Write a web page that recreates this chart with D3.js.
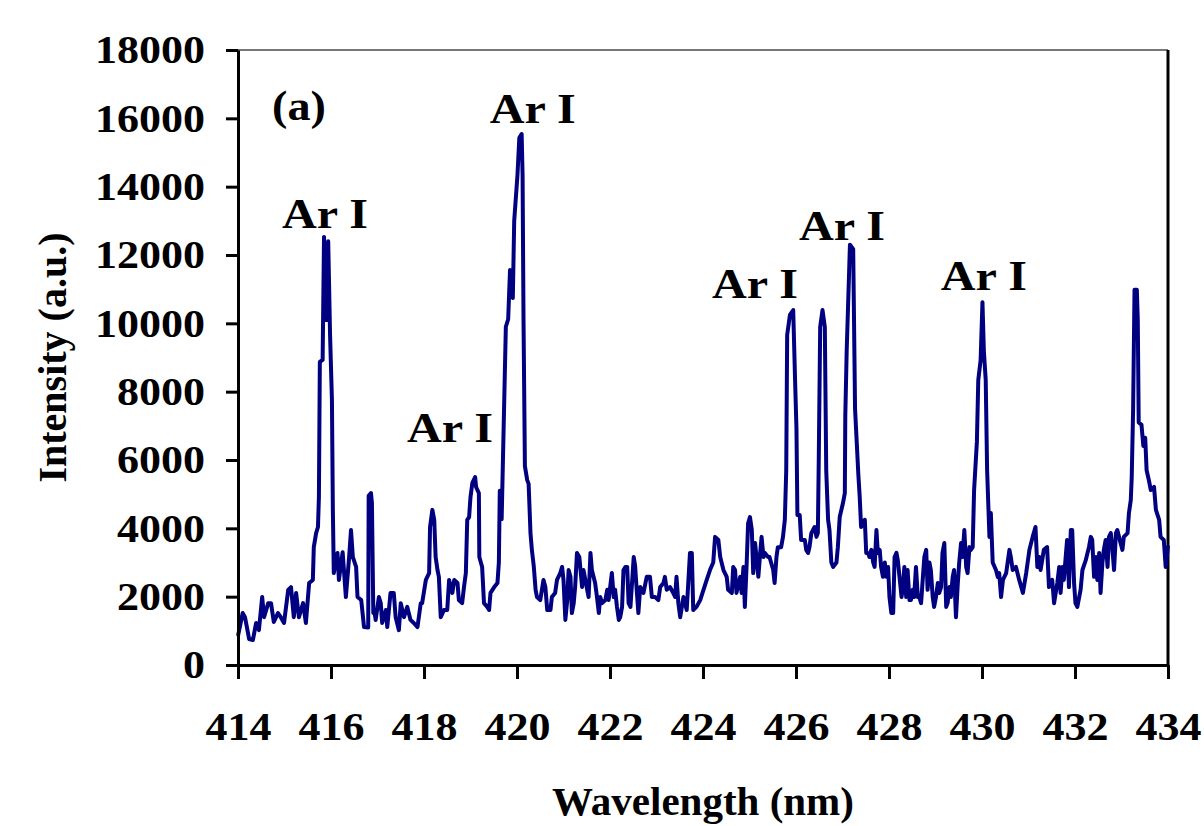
<!DOCTYPE html>
<html>
<head>
<meta charset="utf-8">
<script src="https://cdn.jsdelivr.net/npm/d3@7"></script>
<style>
  html, body { margin: 0; padding: 0; background: #fff; }
  svg text { font-family: "Liberation Serif", "Times New Roman", serif; font-weight: bold; fill: #000; }
</style>
</head>
<body>
<div id="chart-area"></div>
<script>
// spectrum: wavelength (nm) and intensity (a.u.)
const wavelength = [
  414.00, 414.10, 414.15, 414.24, 414.32, 414.39, 414.45, 414.52, 414.56, 414.65,
  414.71, 414.77, 414.86, 414.92, 414.99, 415.08, 415.14, 415.20, 415.25, 415.31,
  415.40, 415.46, 415.53, 415.61, 415.63, 415.68, 415.72, 415.74, 415.76, 415.82,
  415.85, 415.90, 415.94, 415.98, 416.02, 416.04, 416.06, 416.14, 416.17, 416.25,
  416.32, 416.39, 416.43, 416.47, 416.54, 416.57, 416.65, 416.71, 416.80, 416.81,
  416.86, 416.88, 416.91, 416.93, 416.96, 417.03, 417.07, 417.10, 417.18, 417.21,
  417.28, 417.35, 417.39, 417.46, 417.50, 417.57, 417.64, 417.71, 417.78, 417.86,
  417.93, 417.96, 418.04, 418.11, 418.13, 418.18, 418.22, 418.25, 418.29, 418.32,
  418.36, 418.43, 418.50, 418.54, 418.61, 418.65, 418.72, 418.75, 418.82, 418.86,
  418.90, 418.93, 418.97, 419.00, 419.04, 419.10, 419.12, 419.18, 419.19, 419.25,
  419.29, 419.36, 419.40, 419.43, 419.51, 419.58, 419.61, 419.63, 419.67, 419.76,
  419.81, 419.85, 419.91, 419.94, 420.01, 420.05, 420.10, 420.12, 420.14, 420.17,
  420.22, 420.25, 420.29, 420.32, 420.36, 420.40, 420.43, 420.50, 420.57, 420.61,
  420.65, 420.72, 420.75, 420.82, 420.86, 420.93, 420.97, 421.00, 421.04, 421.08,
  421.11, 421.15, 421.18, 421.22, 421.25, 421.29, 421.34, 421.40, 421.43, 421.51,
  421.54, 421.58, 421.61, 421.68, 421.72, 421.76, 421.79, 421.83, 421.90, 421.94,
  421.97, 422.04, 422.08, 422.11, 422.15, 422.19, 422.22, 422.26, 422.29, 422.33,
  422.37, 422.40, 422.44, 422.51, 422.54, 422.57, 422.61, 422.65, 422.72, 422.79,
  422.86, 422.90, 422.97, 423.04, 423.08, 423.15, 423.18, 423.22, 423.29, 423.36,
  423.40, 423.43, 423.47, 423.51, 423.58, 423.65, 423.72, 423.76, 423.79, 423.86,
  423.94, 424.01, 424.08, 424.15, 424.22, 424.26, 424.33, 424.37, 424.44, 424.51,
  424.54, 424.62, 424.65, 424.69, 424.72, 424.80, 424.83, 424.87, 424.90, 424.94,
  424.97, 425.01, 425.05, 425.08, 425.12, 425.15, 425.19, 425.23, 425.26, 425.30,
  425.33, 425.40, 425.43, 425.51, 425.54, 425.58, 425.61, 425.68, 425.72, 425.76,
  425.79, 425.81, 425.87, 425.94, 425.98, 426.01, 426.03, 426.08, 426.11, 426.19,
  426.22, 426.26, 426.29, 426.33, 426.40, 426.44, 426.47, 426.49, 426.52, 426.57,
  426.62, 426.65, 426.69, 426.72, 426.76, 426.80, 426.87, 426.90, 426.94, 427.01,
  427.05, 427.06, 427.09, 427.16, 427.23, 427.27, 427.34, 427.37, 427.40, 427.48,
  427.51, 427.55, 427.58, 427.62, 427.66, 427.69, 427.73, 427.76, 427.80, 427.83,
  427.87, 427.91, 427.94, 427.98, 428.01, 428.05, 428.09, 428.12, 428.16, 428.19,
  428.27, 428.30, 428.33, 428.37, 428.40, 428.44, 428.47, 428.51, 428.54, 428.58,
  428.62, 428.65, 428.69, 428.72, 428.76, 428.80, 428.83, 428.87, 428.90, 428.94,
  428.97, 429.01, 429.05, 429.08, 429.12, 429.15, 429.19, 429.23, 429.26, 429.30,
  429.33, 429.37, 429.40, 429.44, 429.48, 429.51, 429.55, 429.58, 429.62, 429.66,
  429.69, 429.73, 429.76, 429.80, 429.83, 429.89, 429.92, 429.97, 430.01, 430.04,
  430.08, 430.11, 430.16, 430.19, 430.23, 430.30, 430.34, 430.37, 430.41, 430.45,
  430.52, 430.59, 430.62, 430.66, 430.73, 430.80, 430.88, 430.95, 431.02, 431.09,
  431.15, 431.19, 431.23, 431.26, 431.33, 431.40, 431.44, 431.51, 431.55, 431.62,
  431.66, 431.69, 431.73, 431.76, 431.80, 431.83, 431.87, 431.91, 431.94, 431.98,
  432.01, 432.05, 432.12, 432.16, 432.23, 432.30, 432.34, 432.37, 432.41, 432.45,
  432.48, 432.52, 432.55, 432.59, 432.62, 432.66, 432.70, 432.73, 432.77, 432.80,
  432.84, 432.88, 432.91, 432.98, 433.02, 433.05, 433.13, 433.16, 433.20, 433.22,
  433.25, 433.28, 433.33, 433.35, 433.37, 433.43, 433.47, 433.51, 433.54, 433.59,
  433.63, 433.70, 433.74, 433.81, 433.84, 433.91, 433.95, 434.00
];

const intensity = [
  850, 1520, 1400, 760, 730, 1230, 1020, 1990, 1400, 1810,
  1810, 1260, 1520, 1400, 1230, 2200, 2280, 1400, 2110, 1400,
  1810, 1230, 2400, 2490, 3450, 3860, 4040, 4920, 8870, 8930,
  12530, 10100, 12400, 9650, 7760, 4540, 2690, 3280, 2490, 3300,
  1990, 3160, 3950, 3160, 2870, 1990, 1900, 1110, 1100, 4950,
  5030, 4740, 1520, 1610, 1320, 1990, 1810, 1230, 1610, 1110,
  2110, 2110, 1400, 1020, 1810, 1400, 1700, 1320, 1230, 1110,
  1810, 1810, 2490, 2690, 4040, 4540, 4250, 3160, 2780, 2580,
  1400, 1610, 1610, 2490, 2110, 2490, 2400, 1900, 1810, 2280,
  2690, 4250, 4330, 4920, 5330, 5500, 5210, 5030, 3160, 2870,
  1810, 1700, 1610, 2110, 2280, 2400, 3000, 5100, 4270, 9900,
  10120, 11560, 10740, 13000, 14340, 15430, 15540, 14340, 10120, 5820,
  5410, 5300, 3860, 3370, 2900, 2200, 1990, 1900, 2490, 2280,
  1610, 1610, 1990, 2110, 2490, 2690, 2870, 2490, 1320, 1900,
  2780, 2580, 1520, 1810, 2280, 3280, 3160, 2280, 2780, 2200,
  1990, 3280, 2780, 2400, 1990, 1520, 1990, 1810, 1900, 2200,
  1900, 2690, 1990, 2200, 1700, 1320, 1400, 1700, 2780, 2870,
  2870, 1810, 1700, 3160, 2900, 2280, 1520, 2280, 2110, 2580,
  2580, 1990, 1990, 1900, 2280, 2400, 2580, 2200, 2280, 2110,
  1990, 2580, 1810, 1400, 1990, 1610, 3280, 3280, 1610, 1700,
  1900, 2200, 2490, 2780, 3000, 3750, 3660, 3160, 2780, 2580,
  2200, 2110, 2870, 2780, 2110, 2580, 2110, 2870, 1700, 3000,
  4150, 4330, 3950, 2690, 3570, 3160, 2580, 3280, 3750, 3160,
  3280, 3160, 3160, 2780, 2400, 3160, 3450, 3450, 3750, 4250,
  5700, 9660, 10250, 10390, 8340, 6910, 4390, 4390, 3660, 3660,
  3370, 3280, 3450, 3860, 4040, 3750, 3860, 6060, 9890, 10390,
  9890, 5700, 4250, 3950, 3000, 2870, 3000, 3450, 4330, 4740,
  5030, 7270, 9190, 12300, 12170, 7500, 5590, 4920, 4040, 4250,
  3280, 3280, 3160, 3370, 3000, 2870, 3950, 3280, 3370, 2870,
  2580, 3000, 2580, 2870, 1990, 1520, 1520, 3160, 3280, 3060,
  1990, 2280, 2870, 1990, 2780, 1900, 1900, 2200, 1990, 2870,
  1990, 1990, 1810, 2400, 3160, 3370, 2200, 3000, 2780, 1990,
  1700, 1990, 2400, 2110, 2280, 3280, 3570, 1700, 1810, 2280,
  1990, 2580, 2780, 1400, 2400, 3000, 3570, 3160, 3950, 2870,
  2690, 3450, 3370, 3450, 5120, 6530, 8340, 8920, 10620, 9190,
  8340, 5700, 3750, 4450, 3000, 2780, 2580, 2690, 1990, 2490,
  2690, 3370, 3160, 2780, 2870, 2490, 2110, 2690, 3370, 3750,
  4040, 2870, 3160, 2780, 3370, 3450, 2280, 2490, 1810, 2400,
  2870, 2110, 2870, 2490, 3160, 3660, 2280, 3950, 3950, 2400,
  1810, 1700, 2200, 2780, 3060, 3450, 3750, 3660, 2580, 3160,
  2490, 3280, 2110, 3000, 3370, 3660, 2870, 3750, 3860, 3450,
  2780, 3860, 3950, 3570, 3370, 3750, 3860, 4450, 4830, 5500,
  7490, 10980, 10980, 10100, 7100, 7030, 6410, 6650, 5700, 5400,
  5120, 5210, 4540, 4250, 3750, 3660, 2870, 3500
];

const xTicks = [414, 416, 418, 420, 422, 424, 426, 428, 430, 432, 434];
const yTicks = [0, 2000, 4000, 6000, 8000, 10000, 12000, 14000, 16000, 18000];

// line labels, anchored in data units (wavelength, intensity)
const peakLabels = ["Ar I", "Ar I", "Ar I", "Ar I", "Ar I", "Ar I"];
const peakLabelWl = [415.87, 418.56, 420.34, 425.12, 426.99, 430.04];
const peakLabelInt = [12790, 6530, 15860, 10740, 12440, 10980];

const panelLabel = "(a)";

const margin = { top: 50, right: 36, bottom: 161, left: 238 };
const width = 1204 - margin.left - margin.right;
const height = 826 - margin.top - margin.bottom;

// the original lettering is a little wider than Liberation Serif
const stretch = 1.1;

const svg = d3.select("#chart-area")
  .append("svg")
  .attr("width", 1204)
  .attr("height", 826);

const g = svg.append("g")
  .attr("transform", `translate(${margin.left}, ${margin.top})`);

const x = d3.scaleLinear()
  .domain([414, 434])
  .range([0, width]);

const y = d3.scaleLinear()
  .domain([0, 18000])
  .range([height, 0]);

// top and right frame lines
g.append("line")
  .attr("x1", 0).attr("x2", width)
  .attr("y1", 0).attr("y2", 0)
  .attr("stroke", "#777")
  .attr("stroke-width", 2);

g.append("line")
  .attr("x1", width).attr("x2", width)
  .attr("y1", 0).attr("y2", height)
  .attr("stroke", "#000")
  .attr("stroke-width", 3);

const data = wavelength.map((w, i) => ({ w: w, v: intensity[i] }));

const line = d3.line()
  .x(d => x(d.w))
  .y(d => y(d.v));

g.append("path")
  .datum(data)
  .attr("fill", "none")
  .attr("stroke", "#000080")
  .attr("stroke-width", 4)
  .attr("stroke-linejoin", "round")
  .attr("d", line);

const xAxisCall = d3.axisBottom(x)
  .tickValues(xTicks)
  .tickFormat(d3.format("d"))
  .tickSize(14)
  .tickSizeOuter(0)
  .tickPadding(33);

const yAxisCall = d3.axisLeft(y)
  .tickValues(yTicks)
  .tickFormat(d3.format("d"))
  .tickSize(12)
  .tickSizeOuter(0)
  .tickPadding(18);

const xAxisGroup = g.append("g")
  .attr("class", "x-axis")
  .attr("transform", `translate(0, ${height})`)
  .call(xAxisCall);

const yAxisGroup = g.append("g")
  .attr("class", "y-axis")
  .call(yAxisCall);

[xAxisGroup, yAxisGroup].forEach(ax => {
  ax.select(".domain").attr("stroke", "#000").attr("stroke-width", 3);
  ax.selectAll(".tick line").attr("stroke", "#000").attr("stroke-width", 3);
  ax.selectAll(".tick text")
    .attr("font-family", "Liberation Serif, Times New Roman, serif")
    .attr("font-weight", "bold")
    .attr("font-size", 40)
    .attr("transform", `scale(${stretch}, 1)`);
});

g.append("text")
  .attr("class", "x label")
  .attr("x", width / 2)
  .attr("y", height + 150)
  .attr("text-anchor", "middle")
  .attr("font-size", 41)
  .text("Wavelength (nm)");

g.append("text")
  .attr("class", "y label")
  .attr("x", -(height / 2))
  .attr("y", -172)
  .attr("transform", "rotate(-90)")
  .attr("text-anchor", "middle")
  .attr("font-size", 40)
  .text("Intensity (a.u.)");

g.append("text")
  .attr("transform", `translate(34, 70) scale(${stretch}, 1)`)
  .attr("font-size", 42)
  .text(panelLabel);

peakLabels.forEach((t, i) => {
  g.append("text")
    .attr("transform", `translate(${x(peakLabelWl[i])}, ${y(peakLabelInt[i])}) scale(1.12, 1)`)
    .attr("text-anchor", "middle")
    .attr("font-size", 43)
    .text(t);
});
</script>
</body>
</html>
